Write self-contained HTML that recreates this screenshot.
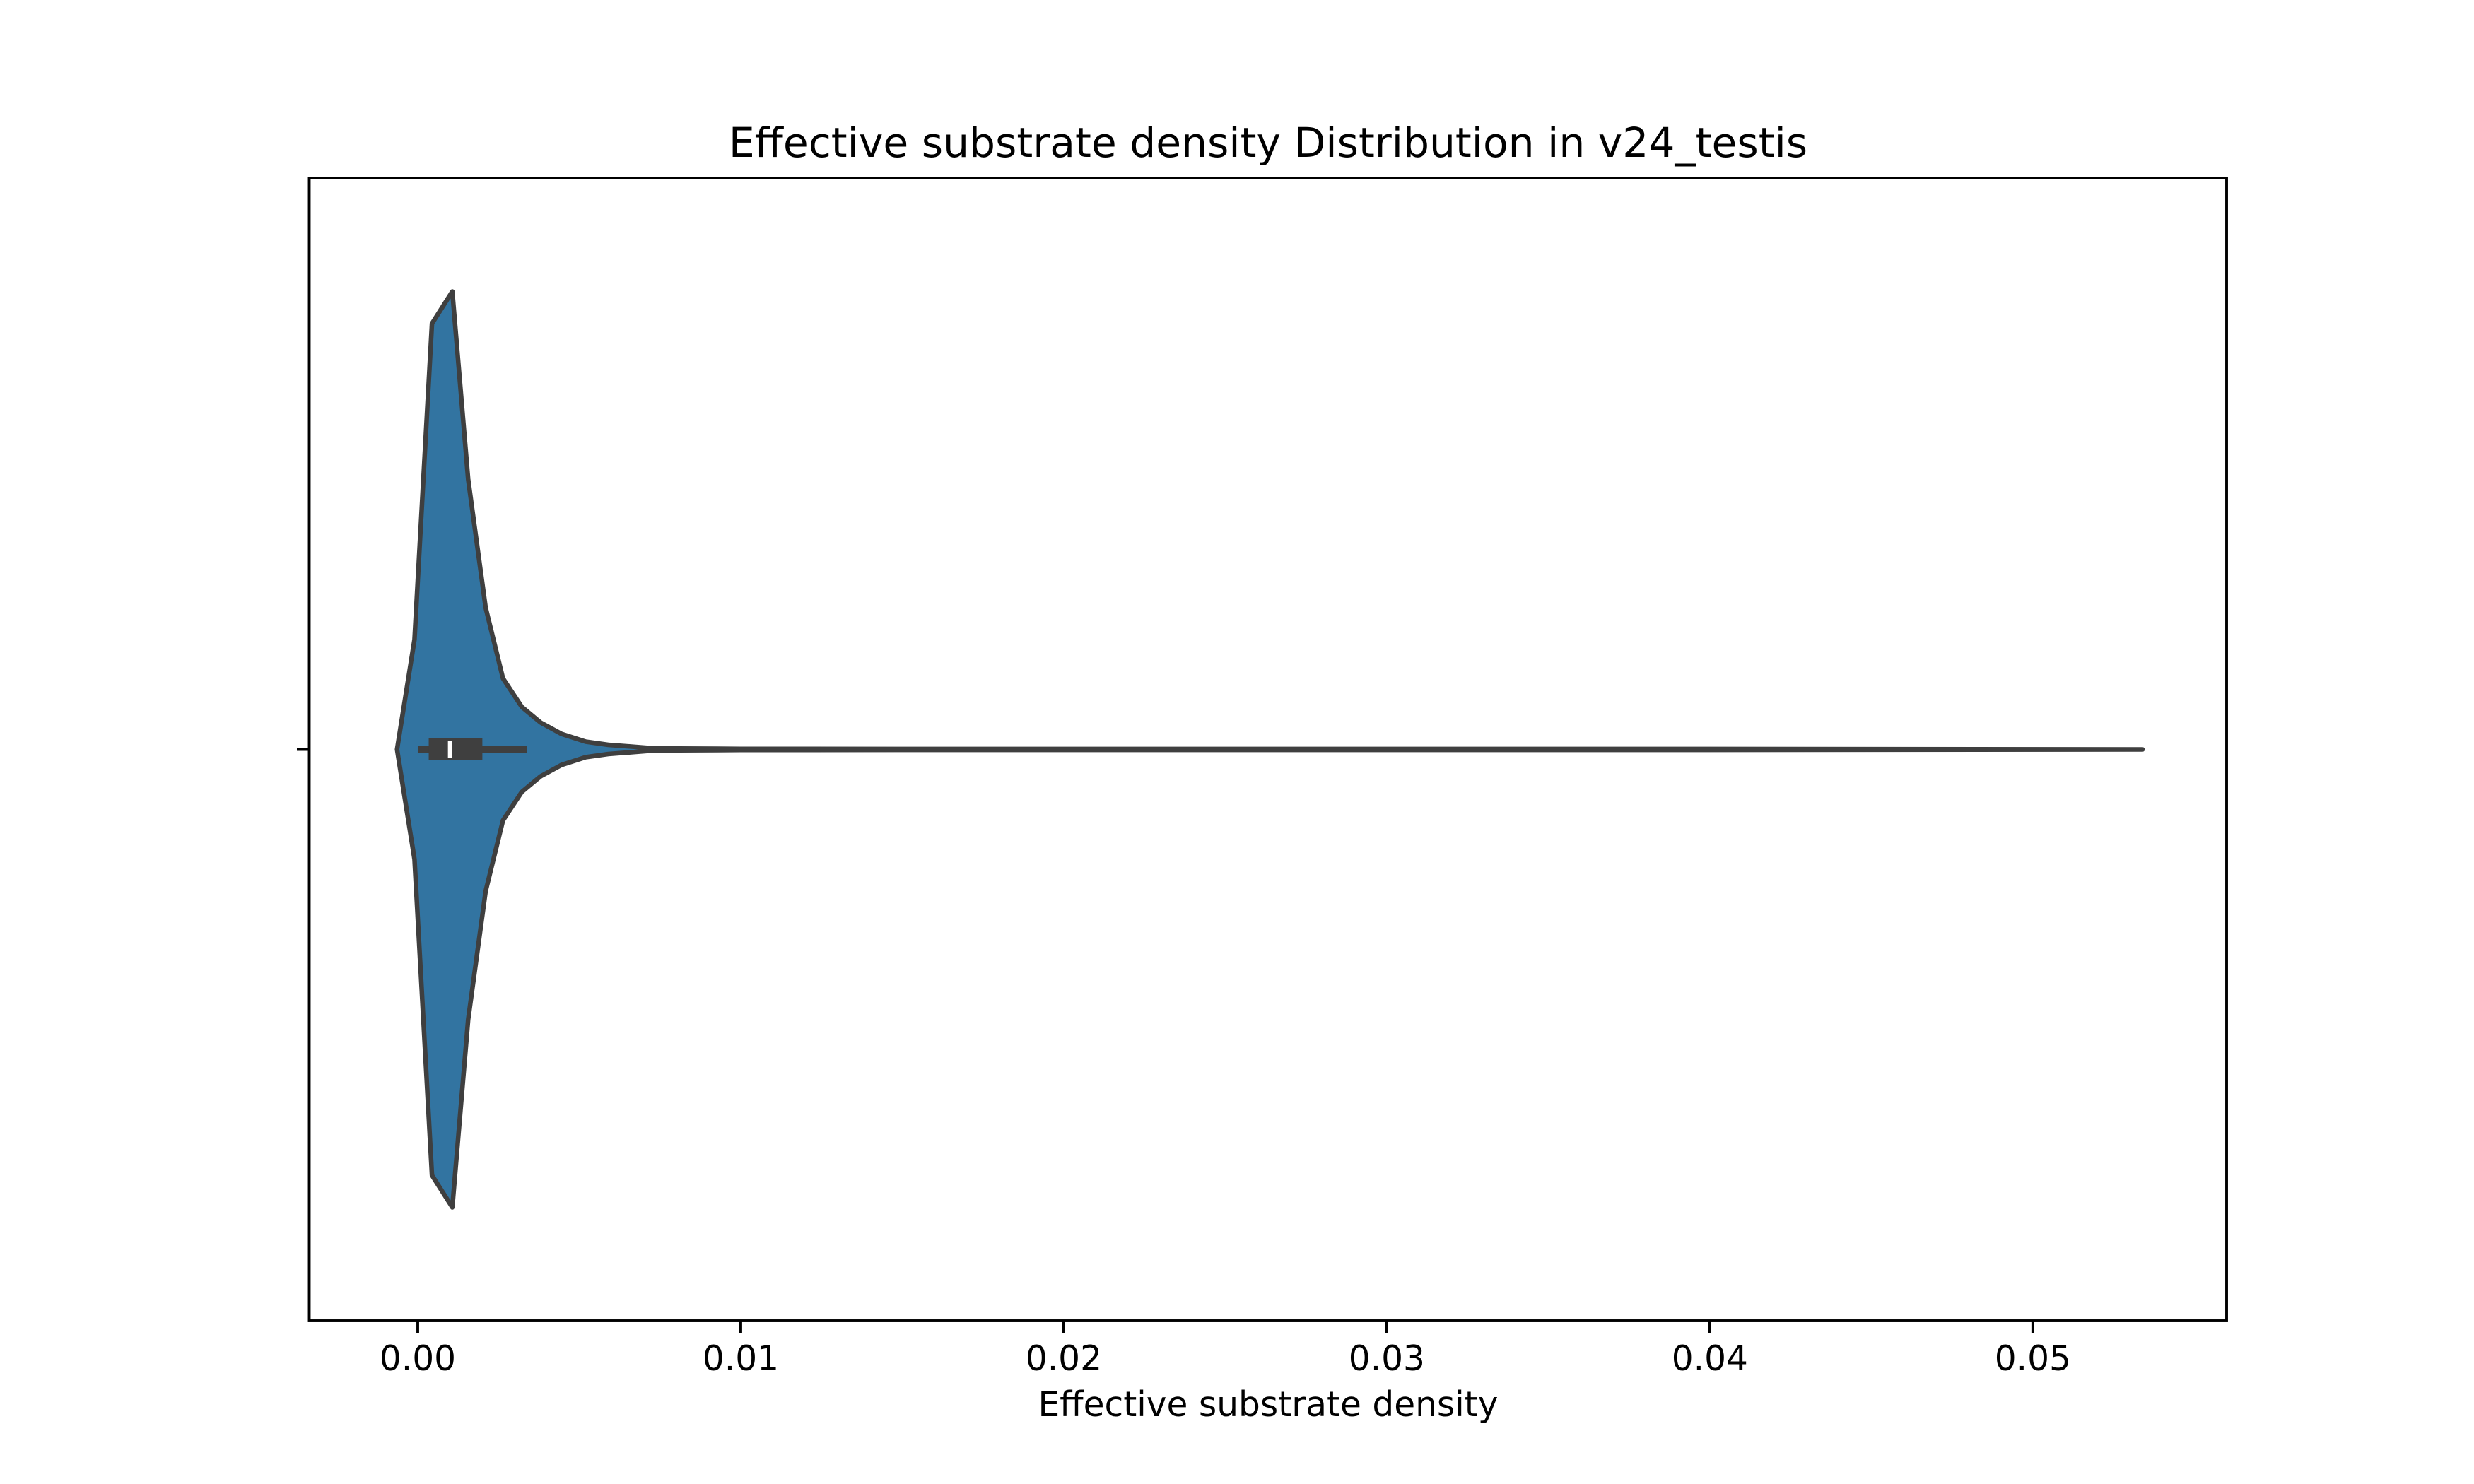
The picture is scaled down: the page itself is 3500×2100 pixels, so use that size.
<!DOCTYPE html>
<html><head><meta charset="utf-8"><style>
html,body{margin:0;padding:0;background:#fff;}
svg{display:block;font-family:"DejaVu Sans","Liberation Sans",sans-serif;}
</style></head><body>
<svg id="chart" width="3500" height="2100" viewBox="0 0 3500 2100">
<rect x="0" y="0" width="3500" height="2100" fill="#fff"/>
<text x="1794" y="222" font-size="58.3" text-anchor="middle" fill="#000">Effective substrate density Distribution in v24_testis</text>
<g id="plot"></g>
<rect x="437.5" y="252" width="2712.5" height="1617" fill="none" stroke="#000" stroke-width="3.9"/>
<line x1="420" y1="1060.5" x2="437.5" y2="1060.5" stroke="#000" stroke-width="3.9"/>
<g id="xaxis"></g>
<text x="1794" y="2004" font-size="48.6" text-anchor="middle" fill="#000">Effective substrate density</text>
</svg>
<script>
const gridX = [-0.00064, -0.0001, 0.00044, 0.00107, 0.00156, 0.0021, 0.00264, 0.00322, 0.0038, 0.00445, 0.0052, 0.0059, 0.0071, 0.0081, 0.010, 0.015, 0.025, 0.04, 0.0534];
const densityValues = [0, 0.24, 0.93, 1.0, 0.59, 0.31, 0.155, 0.093, 0.059, 0.034, 0.017, 0.010, 0.0035, 0.002, 0.0012, 0.001, 0.001, 0.001, 0];
const boxStats = [0.0, 0.00034, 0.001, 0.002, 0.00337];
const xTicks = [0, 0.01, 0.02, 0.03, 0.04, 0.05];
const xTickLabels = ["0.00", "0.01", "0.02", "0.03", "0.04", "0.05"];

const NS = "http://www.w3.org/2000/svg";
const X0 = 437.5, X1 = 3150, XMIN = -0.003359, XMAX = 0.05600;
function xs(v){ return X0 + (v - XMIN) / (XMAX - XMIN) * (X1 - X0); }
const CY = 1060.5, HALFMAX = 648;
function ws(d){ return d * HALFMAX; }

const plotG = document.getElementById('plot');
const upperPts = [], lowerPts = [];
for (let i = 0; i < gridX.length; i++) {
  upperPts.push(xs(gridX[i]).toFixed(1) + ',' + (CY - ws(densityValues[i])).toFixed(1));
  lowerPts.unshift(xs(gridX[i]).toFixed(1) + ',' + (CY + ws(densityValues[i])).toFixed(1));
}
const poly = document.createElementNS(NS, 'polygon');
poly.setAttribute('points', upperPts.concat(lowerPts).join(' '));
poly.setAttribute('fill', '#3274a1');
poly.setAttribute('stroke', '#3f3f3f');
poly.setAttribute('stroke-width', '6.5');
poly.setAttribute('stroke-linejoin', 'round');


plotG.appendChild(poly);

const wh = document.createElementNS(NS, 'line');
wh.setAttribute('x1', xs(boxStats[0])); wh.setAttribute('x2', xs(boxStats[4]));
wh.setAttribute('y1', CY); wh.setAttribute('y2', CY);
wh.setAttribute('stroke', '#3f3f3f'); wh.setAttribute('stroke-width', '10');


plotG.appendChild(wh);

const box = document.createElementNS(NS, 'rect');
box.setAttribute('x', xs(boxStats[1])); box.setAttribute('width', xs(boxStats[3]) - xs(boxStats[1]));
box.setAttribute('y', CY - 15.5); box.setAttribute('height', 31);
box.setAttribute('fill', '#3f3f3f');


plotG.appendChild(box);

const med = document.createElementNS(NS, 'rect');
med.setAttribute('x', xs(boxStats[2]) - 3); med.setAttribute('width', 6);
med.setAttribute('y', CY - 12.5); med.setAttribute('height', 25);
med.setAttribute('fill', '#fff');


plotG.appendChild(med);

const xa = document.getElementById('xaxis');
for (let i = 0; i < xTicks.length; i++) {
  const px = xs(xTicks[i]);
  const t = document.createElementNS(NS, 'line');
  t.setAttribute('x1', px); t.setAttribute('x2', px);
  t.setAttribute('y1', 1869); t.setAttribute('y2', 1886);
  t.setAttribute('stroke', '#000'); t.setAttribute('stroke-width', '3.9');
  
  
  xa.appendChild(t);
  const lb = document.createElementNS(NS, 'text');
  lb.setAttribute('x', px); lb.setAttribute('y', 1939);
  lb.setAttribute('font-size', '48.6'); lb.setAttribute('text-anchor', 'middle');
  lb.textContent = xTickLabels[i];
  
  
  xa.appendChild(lb);
}
</script>
</body></html>
